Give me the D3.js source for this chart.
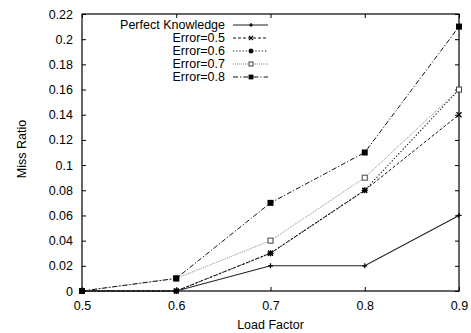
<!DOCTYPE html>
<html>
<head>
<meta charset="utf-8">
<script src="https://cdn.jsdelivr.net/npm/d3@7"></script>
<style>
  body { margin: 0; background: #fff; }
  text { font-family: "Liberation Sans", Arial, sans-serif; fill: #000; }
</style>
</head>
<body>
<svg id="chart"></svg>
<script>
// chart data
const loadFactors = [0.5, 0.6, 0.7, 0.8, 0.9];
const perfectKnowledge = [0, 0, 0.02, 0.02, 0.06];
const error05 = [0, 0, 0.03, 0.08, 0.14];
const error06 = [0, 0, 0.03, 0.08, 0.16];
const error07 = [0, 0.01, 0.04, 0.09, 0.16];
const error08 = [0, 0.01, 0.07, 0.11, 0.21];
const xTicks = [0.5, 0.6, 0.7, 0.8, 0.9];
const yTicks = [0, 0.02, 0.04, 0.06, 0.08, 0.1, 0.12, 0.14, 0.16, 0.18, 0.2, 0.22];

const series = [
  { name: "Perfect Knowledge", values: perfectKnowledge, color: "#222", dash: null, width: 1.1, marker: "plus" },
  { name: "Error=0.5", values: error05, color: "#111", dash: "3,2", width: 1, marker: "cross" },
  { name: "Error=0.6", values: error06, color: "#111", dash: "1.2,2", width: 1.1, marker: "star" },
  { name: "Error=0.7", values: error07, color: "#888", dash: "1,1", width: 1, marker: "square" },
  { name: "Error=0.8", values: error08, color: "#111", dash: "5,2,1.2,2", width: 1, marker: "filled" }
];

const W = 471, H = 333;
const margin = { top: 14, right: 12, bottom: 42, left: 82 };
const width = W - margin.left - margin.right;
const height = H - margin.top - margin.bottom;

const svg = d3.select("#chart").attr("width", W).attr("height", H);
const g = svg.append("g").attr("transform", "translate(" + margin.left + "," + margin.top + ")");

const x = d3.scaleLinear().domain([0.5, 0.9]).range([0, width]);
const y = d3.scaleLinear().domain([0, 0.22]).range([height, 0]);

// axes with inward ticks, mirrored on top/right
g.append("g")
  .attr("transform", "translate(0," + height + ")")
  .call(d3.axisBottom(x).tickValues(xTicks).tickSize(-4).tickPadding(10).tickFormat(d3.format("")))
  .call(a => a.select(".domain").remove())
  .call(a => a.selectAll("text").attr("font-size", "12.5px"));

g.append("g")
  .call(d3.axisTop(x).tickValues(xTicks).tickSize(-4).tickFormat(""))
  .call(a => a.select(".domain").remove());

g.append("g")
  .call(d3.axisLeft(y).tickValues(yTicks).tickSize(-4).tickPadding(9).tickFormat(d3.format("")))
  .call(a => a.select(".domain").remove())
  .call(a => a.selectAll("text").attr("font-size", "12.5px"));

g.append("g")
  .attr("transform", "translate(" + width + ",0)")
  .call(d3.axisRight(y).tickValues(yTicks).tickSize(-4).tickFormat(""))
  .call(a => a.select(".domain").remove());

g.selectAll(".tick line").attr("stroke", "#000");

g.append("rect")
  .attr("width", width).attr("height", height)
  .attr("fill", "none").attr("stroke", "#000").attr("stroke-width", 1.2);

// axis titles
svg.append("text")
  .attr("x", margin.left + width / 2).attr("y", 329)
  .attr("text-anchor", "middle").attr("font-size", "12.5px")
  .text("Load Factor");

svg.append("text")
  .attr("transform", "translate(26," + 149 + ") rotate(-90)")
  .attr("text-anchor", "middle").attr("font-size", "12.5px")
  .text("Miss Ratio");

function drawMarker(sel, type, color, k) {
  k = k || 1;
  if (type === "plus") {
    sel.append("path").attr("d", `M${-2.5*k},0H${2.5*k}M0,${-2.5*k}V${2.5*k}`).attr("stroke", color).attr("stroke-width", 1.2);
  } else if (type === "cross") {
    sel.append("path").attr("d", `M${-2.5*k},${-2.5*k}L${2.5*k},${2.5*k}M${-2.5*k},${2.5*k}L${2.5*k},${-2.5*k}`).attr("stroke", color).attr("stroke-width", 1.2);
  } else if (type === "star") {
    sel.append("path").attr("d", `M${-3*k},0H${3*k}M0,${-3*k}V${3*k}M${-2.2*k},${-2.2*k}L${2.2*k},${2.2*k}M${-2.2*k},${2.2*k}L${2.2*k},${-2.2*k}`).attr("stroke", color).attr("stroke-width", 1.3);
  } else if (type === "square") {
    sel.append("rect").attr("x", -2.5*k).attr("y", -2.5*k).attr("width", 5*k).attr("height", 5*k)
      .attr("fill", "#fff").attr("stroke", "#444").attr("stroke-width", 1);
  } else if (type === "filled") {
    sel.append("rect").attr("x", -3*k).attr("y", -3*k).attr("width", 6*k).attr("height", 6*k).attr("fill", color);
  }
}

const line = d3.line().x(d => x(d[0])).y(d => y(d[1]));

series.forEach(s => {
  const pts = loadFactors.map((lf, i) => [lf, s.values[i]]);
  g.append("path")
    .datum(pts)
    .attr("d", line)
    .attr("fill", "none")
    .attr("stroke", s.color)
    .attr("stroke-width", s.width)
    .attr("stroke-dasharray", s.dash);
});

series.forEach(s => {
  loadFactors.forEach((lf, i) => {
    const m = g.append("g").attr("transform", "translate(" + x(lf) + "," + y(s.values[i]) + ")");
    drawMarker(m, s.marker, s.color === "#888" ? "#444" : "#000");
  });
});

// legend
const legend = svg.append("g");
series.forEach((s, i) => {
  const ly = 25 + i * 13;
  legend.append("text")
    .attr("x", 225).attr("y", ly).attr("dy", "0.35em")
    .attr("text-anchor", "end").attr("font-size", "12.5px")
    .text(s.name);
  legend.append("line")
    .attr("x1", 233).attr("x2", 268).attr("y1", ly).attr("y2", ly)
    .attr("stroke", s.color).attr("stroke-width", s.width)
    .attr("stroke-dasharray", s.dash);
  const m = legend.append("g").attr("transform", "translate(251," + ly + ")");
  drawMarker(m, s.marker, s.color === "#888" ? "#444" : "#000", 0.8);
});
</script>
</body>
</html>
